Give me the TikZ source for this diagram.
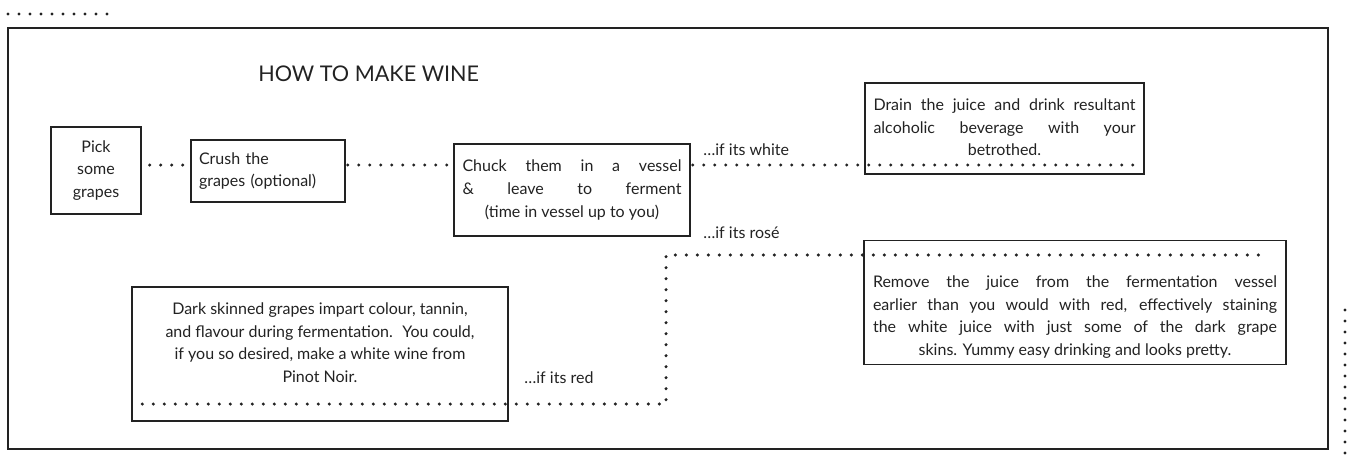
\documentclass[tikz,border=0pt]{standalone}
\usepackage{fontspec}
\setmainfont{Lato}
\usepackage{xcolor}
\usetikzlibrary{positioning}
\definecolor{ink}{HTML}{222222}
\newcommand{\lastcentred}{\leftskip=0pt plus 1fil\rightskip=0pt plus -1fil\parfillskip=0pt plus 2fil\relax}
\newcommand{\bodyfont}{\fontsize{8}{11.3}\selectfont}

\begin{document}
\begin{tikzpicture}[x=0.5pt,y=-0.5pt,
  stepbox/.style={draw=ink, line width=0.7pt, text=ink, font=\bodyfont},
  dotline/.style={ink, line width=1.7pt, line cap=round, dash pattern=on 0pt off 5.5pt},
  branchlabel/.style={anchor=base west, inner sep=0pt, text=ink, font=\bodyfont}]
\useasboundingbox (0,0) rectangle (1349,461);
% frame and loose dots
\draw[dotline] (8,14) -- (107,14);
\draw[ink, line width=1pt] (8,28) rectangle (1328,449);
\draw[dotline] (1345,310) -- (1345,453);
\node[anchor=base west, inner sep=0pt, text=ink, font=\fontsize{10.8}{13}\selectfont] (title) at (258,81) {HOW TO MAKE WINE};
% steps
\node[stepbox, minimum width=45pt, minimum height=43.5pt, align=center] (pick) at (96,170.5) {Pick\\some\\grapes};
\node[stepbox, minimum height=31pt, text width=69pt, align=left, inner xsep=4pt] (crush) at (268,171) {Crush the\\grapes (optional)};
\node[stepbox, inner xsep=4.25pt, inner ysep=0pt, minimum height=46pt] (chuck) at (572,190) {\parbox{109.5pt}{\lastcentred Chuck them in a vessel\linebreak \& leave to ferment\linebreak (time in vessel up to you)}};
\node[stepbox, inner xsep=4.25pt, inner ysep=8pt] (drain) at (1004.5,128.5) {\parbox[c][29.5pt][t]{131pt}{\lastcentred Drain the juice and drink resultant\linebreak alcoholic beverage with your\linebreak betrothed.}};
\node[stepbox, inner xsep=4.5pt, inner ysep=3pt] (remove) at (1075,302.5) {\parbox[c][54.5pt][b]{202pt}{\lastcentred Remove the juice from the fermentation vessel\linebreak earlier than you would with red, effectively staining\linebreak the white juice with just some of the dark grape\linebreak skins. Yummy easy drinking and looks pretty.}};
\node[stepbox, inner xsep=5pt, inner ysep=8pt] (dark) at (320,354) {\parbox[c][51pt][t]{178pt}{\centering Dark skinned grapes impart colour, tannin,\\ and flavour during fermentation.~ You could,\\ if you so desired, make a white wine from\\ Pinot Noir.}};
% connectors
\coordinate (toprow) at (0,165);
\coordinate (redturn) at (666,404);
\coordinate (roseturn) at (666,255);
\draw[dotline, shorten <=4pt, shorten >=2pt] (pick.east |- toprow) -- (crush.west |- toprow);
\draw[dotline, shorten <=1pt] (crush.east |- toprow) -- (chuck.west |- toprow);
\draw[dotline, shorten <=1pt, shorten >=3pt] (chuck.east |- toprow) -- (drain.east |- toprow);
\draw[dotline, shorten <=5.5pt, shorten >=11pt] (dark.west |- redturn) -- (redturn) -- (roseturn) -- (remove.east |- roseturn);
% branch labels
\node[branchlabel] (white) at (703,155) {\ldots{}if its white};
\node[branchlabel] (rose) at (703,238) {\ldots{}if its rosé};
\node[branchlabel] (red) at (524,383) {\ldots{}if its red};
\end{tikzpicture}
\end{document}
